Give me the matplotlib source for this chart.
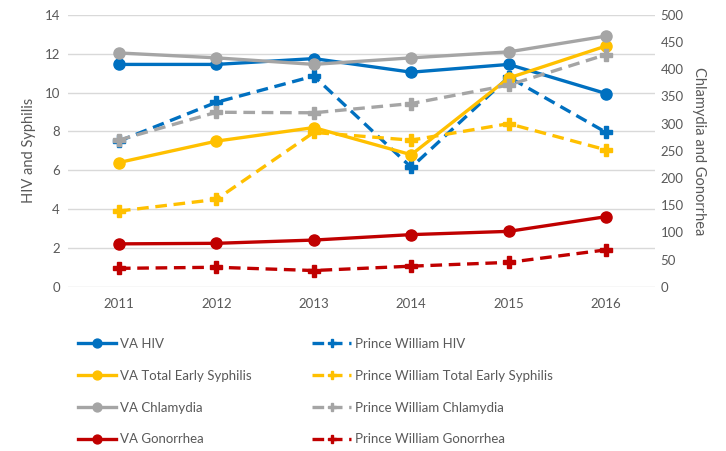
import matplotlib
matplotlib.use("Agg")
import matplotlib.pyplot as plt

plt.rcParams['font.family'] = ['Lato', 'DejaVu Sans']

years = [2011, 2012, 2013, 2014, 2015, 2016]

# left axis (HIV and Syphilis)
va_hiv = [11.45, 11.45, 11.75, 11.05, 11.45, 9.95]
pw_hiv = [7.5, 9.5, 10.85, 6.15, 10.8, 7.95]
va_syph = [6.4, 7.5, 8.2, 6.8, 10.75, 12.4]
pw_syph = [3.9, 4.5, 7.95, 7.55, 8.4, 7.05]

# right axis (Chlamydia and Gonorrhea)
va_chlam = [430, 421, 409, 421, 432, 461]
pw_chlam = [270, 321, 320, 337, 371, 427]
va_gono = [79, 80, 86, 96, 102, 129]
pw_gono = [34, 36, 30, 38, 45, 68]

blue = '#0070C0'
yellow = '#FFC000'
gray = '#A5A5A5'
red = '#C00000'
txt = '#595959'

fig = plt.figure(figsize=(7.26, 4.51), dpi=100)
ax = fig.add_axes([0.094, 0.364, 0.808, 0.603])
ax2 = ax.twinx()

solid = dict(lw=2.4, marker='o', ms=8)
dash = dict(lw=2.4, marker='P', ms=8, ls=(0, (3.5, 2)))

h1, = ax.plot(years, va_hiv, color=blue, label='VA HIV', **solid)
h5, = ax.plot(years, pw_hiv, color=blue, label='Prince William HIV', **dash)
h2, = ax.plot(years, va_syph, color=yellow, label='VA Total Early Syphilis', **solid)
h6, = ax.plot(years, pw_syph, color=yellow, label='Prince William Total Early Syphilis', **dash)
h3, = ax2.plot(years, va_chlam, color=gray, label='VA Chlamydia', **solid)
h7, = ax2.plot(years, pw_chlam, color=gray, label='Prince William Chlamydia', **dash)
h4, = ax2.plot(years, va_gono, color=red, label='VA Gonorrhea', **solid)
h8, = ax2.plot(years, pw_gono, color=red, label='Prince William Gonorrhea', **dash)

ax.set_xlim(2010.48, 2016.5)
ax.set_ylim(0, 14)
ax.set_yticks(range(0, 15, 2))
ax2.set_ylim(0, 500)
ax2.set_yticks(range(0, 501, 50))
ax.set_xticks(years)

ax.grid(axis='y', color='#D9D9D9', lw=1)
ax.set_axisbelow(True)
for a in (ax, ax2):
    for s in a.spines.values():
        s.set_visible(False)
    a.tick_params(length=0, colors=txt, labelsize=9.5)
ax.tick_params(axis='x', pad=8)
ax.tick_params(axis='y', pad=6)
ax2.tick_params(axis='y', pad=4)

ax.set_ylabel('HIV and Syphilis', color=txt, fontsize=10.5, labelpad=6)
ax2.set_ylabel('Chlamydia and Gonorrhea', color=txt, fontsize=10.5,
               rotation=-90, labelpad=16)

fig.legend(handles=[h1, h2, h3, h4, h5, h6, h7, h8], ncol=2,
           loc='upper left', bbox_to_anchor=(0.1, 0.262), frameon=False,
           fontsize=9.5, labelcolor=txt, handlelength=2.9, handletextpad=0.3,
           columnspacing=4.6, labelspacing=1.5, borderaxespad=0,
           markerscale=0.8)

fig.savefig('out.png', dpi=100)
